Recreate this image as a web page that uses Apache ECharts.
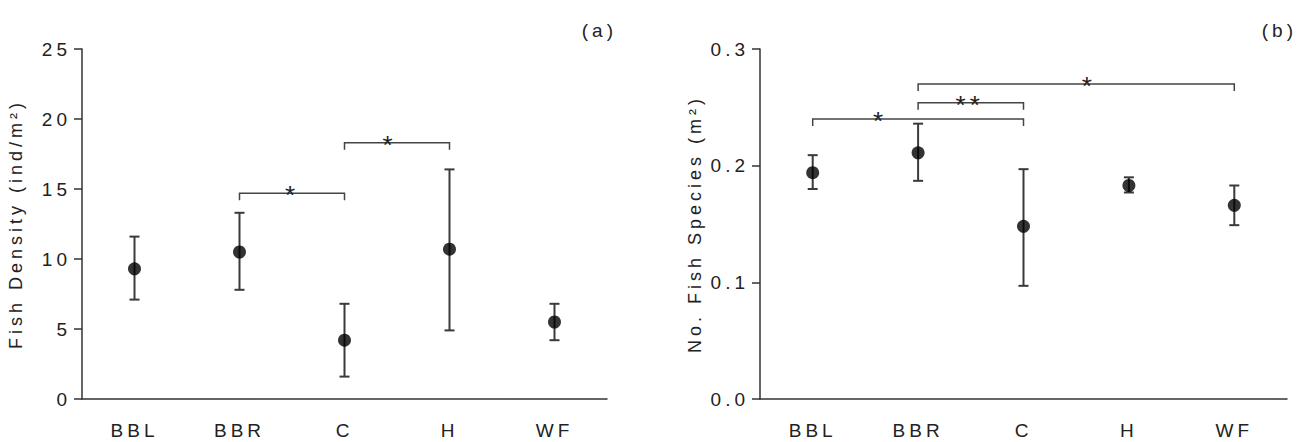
<!DOCTYPE html>
<html>
<head>
<meta charset="utf-8">
<title>Fish density and species by site</title>
<script src="https://cdn.jsdelivr.net/npm/echarts@6.0.0/dist/echarts.min.js"></script>
<style>
  html, body { margin: 0; padding: 0; background: #fff; }
  #chart { width: 1297px; height: 442px; letter-spacing: 4px; }
</style>
</head>
<body>
<div id="chart"></div>
<script>
const sites = ['BBL', 'BBR', 'C', 'H', 'WF'];

// (a) fish density, ind/m2: mean and error bar ends
const densityMean = [9.3, 10.5, 4.2, 10.7, 5.5];
const densityLow = [7.1, 7.8, 1.6, 4.9, 4.2];
const densityHigh = [11.6, 13.3, 6.8, 16.4, 6.8];

// (b) number of fish species per m2
const speciesMean = [0.194, 0.211, 0.148, 0.183, 0.166];
const speciesLow = [0.180, 0.187, 0.097, 0.177, 0.149];
const speciesHigh = [0.209, 0.236, 0.197, 0.190, 0.183];

// significance brackets: [from site, to site, height, stars]
const densitySig = [[1, 2, 14.7, '*'], [2, 3, 18.3, '*']];
const speciesSig = [[0, 2, 0.240, '*'], [1, 2, 0.254, '**'], [1, 4, 0.270, '*']];

// where the stars sit along each bracket (0 = left end, 1 = right end)
const densityStarAt = [0.5, 0.43];
const speciesStarAt = [0.32, 0.49, 0.54];

const font = "'Liberation Sans', Arial, sans-serif";
const ink = '#222';
const line = '#333';

function errorBar(params, api) {
  const x = api.value(0);
  const lo = api.coord([x, api.value(1)]);
  const hi = api.coord([x, api.value(2)]);
  const cap = 5;
  const style = { stroke: '#3a3a3a', lineWidth: 2 };
  return {
    type: 'group',
    children: [
      { type: 'line', shape: { x1: lo[0], y1: lo[1], x2: hi[0], y2: hi[1] }, style: style },
      { type: 'line', shape: { x1: lo[0] - cap, y1: lo[1], x2: lo[0] + cap, y2: lo[1] }, style: style },
      { type: 'line', shape: { x1: hi[0] - cap, y1: hi[1], x2: hi[0] + cap, y2: hi[1] }, style: style }
    ]
  };
}

function bracket(sig, starAt) {
  return function (params, api) {
    const a = api.coord([api.value(0), api.value(2)]);
    const b = api.coord([api.value(1), api.value(2)]);
    const leg = 7;
    const t = starAt[params.dataIndex];
    return {
      type: 'group',
      children: [
        {
          type: 'polyline',
          shape: { points: [[a[0], a[1] + leg], [a[0], a[1]], [b[0], b[1]], [b[0], b[1] + leg]] },
          style: { stroke: '#444', lineWidth: 1.5, fill: null }
        },
        {
          type: 'text',
          style: {
            text: sig[params.dataIndex][3],
            x: a[0] + (b[0] - a[0]) * t,
            y: a[1] + 2,
            align: 'center',
            verticalAlign: 'middle',
            fontSize: 26,
            fontFamily: font,
            fill: ink
          }
        }
      ]
    };
  };
}

function xAxis(gridIndex) {
  return {
    type: 'category',
    gridIndex: gridIndex,
    data: sites,
    boundaryGap: true,
    axisLine: { lineStyle: { color: line, width: 1.5 } },
    axisTick: { alignWithLabel: true, length: 8, lineStyle: { color: line, width: 1.5 } },
    axisLabel: { color: ink, fontSize: 19, fontFamily: font, margin: 22 },
    splitLine: { show: false }
  };
}

function yAxis(gridIndex, max, interval, digits, name, gap) {
  return {
    type: 'value',
    gridIndex: gridIndex,
    min: 0,
    max: max,
    interval: interval,
    name: name,
    nameLocation: 'middle',
    nameGap: gap,
    nameTextStyle: { color: ink, fontSize: 18, fontFamily: font },
    axisLine: { show: true, lineStyle: { color: line, width: 1.5 } },
    axisTick: { show: true, length: 8, lineStyle: { color: line, width: 1.5 } },
    axisLabel: {
      color: ink,
      fontSize: 19,
      fontFamily: font,
      margin: 11,
      formatter: function (v) { return v.toFixed(digits); }
    },
    splitLine: { show: false }
  };
}

const chart = echarts.init(document.getElementById('chart'), null, { renderer: 'svg' });

chart.setOption({
  animation: false,
  backgroundColor: '#fff',
  title: [
    { text: '(a)', right: 687, top: 16, textStyle: { fontSize: 19, fontWeight: 'normal', color: ink, fontFamily: font } },
    { text: '(b)', right: 7, top: 16, textStyle: { fontSize: 19, fontWeight: 'normal', color: ink, fontFamily: font } }
  ],
  grid: [
    { left: 82, top: 49, width: 525, height: 350 },
    { left: 760, top: 49, width: 527, height: 350 }
  ],
  xAxis: [xAxis(0), xAxis(1)],
  yAxis: [
    yAxis(0, 25, 5, 0, 'Fish Density (ind/m²)', 57),
    yAxis(1, 0.3, 0.1, 1, 'No. Fish Species (m²)', 56)
  ],
  series: [
    {
      type: 'custom', xAxisIndex: 0, yAxisIndex: 0,
      renderItem: errorBar,
      data: sites.map((s, i) => [i, densityLow[i], densityHigh[i]])
    },
    {
      type: 'scatter', xAxisIndex: 0, yAxisIndex: 0,
      symbolSize: 13, itemStyle: { color: '#000' },
      data: densityMean
    },
    {
      type: 'custom', xAxisIndex: 0, yAxisIndex: 0,
      renderItem: bracket(densitySig, densityStarAt),
      encode: { x: 0, y: 2 },
      data: densitySig.map(d => [d[0], d[1], d[2]])
    },
    {
      type: 'custom', xAxisIndex: 1, yAxisIndex: 1,
      renderItem: errorBar,
      data: sites.map((s, i) => [i, speciesLow[i], speciesHigh[i]])
    },
    {
      type: 'scatter', xAxisIndex: 1, yAxisIndex: 1,
      symbolSize: 13, itemStyle: { color: '#000' },
      data: speciesMean
    },
    {
      type: 'custom', xAxisIndex: 1, yAxisIndex: 1,
      renderItem: bracket(speciesSig, speciesStarAt),
      encode: { x: 0, y: 2 },
      data: speciesSig.map(d => [d[0], d[1], d[2]])
    }
  ]
});
</script>
</body>
</html>
